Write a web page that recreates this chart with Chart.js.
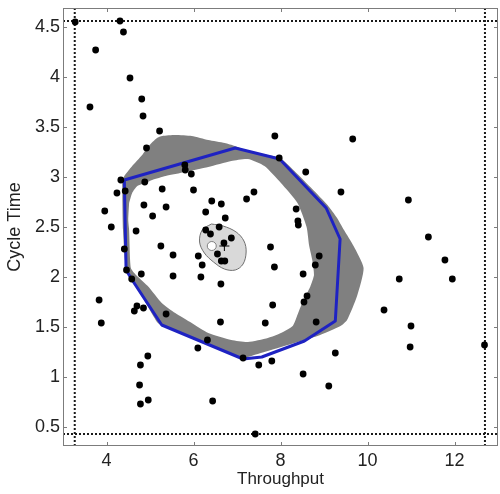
<!DOCTYPE html>
<html><head><meta charset="utf-8">
<script src="https://cdn.jsdelivr.net/npm/chart.js@4.4.1/dist/chart.umd.min.js"></script>
<style>
html,body{margin:0;padding:0;overflow:hidden;background:#fff;width:500px;height:494px}
#wrap{position:absolute;left:0;top:0;width:504px;height:494px}
</style>
</head><body><div id="wrap"><canvas id="c" width="504" height="494" style="width:504px;height:494px"></canvas></div>
<script>
const xTicks = [4, 6, 8, 10, 12];
const yTicks = [0.5, 1, 1.5, 2, 2.5, 3, 3.5, 4, 4.5];
const xRange = [3, 13];
const yRange = [0.31, 4.69];

const obsX = [3.28,4.31,4.39,3.75,4.54,3.62,4.81,4.84,5.22,4.92,5.80,5.81,5.95,4.33,4.88,4.43,4.24,5.28,6.00,3.96,
  4.86,5.37,4.11,5.06,4.68,5.25,6.42,6.64,6.28,6.73,7.22,6.28,6.39,6.59,6.87,6.70,6.55,6.64,6.72,6.11,
  6.20,6.17,7.87,9.66,7.97,8.58,7.39,9.39,10.94,8.36,8.40,8.41,11.40,7.77,8.89,8.80,7.86,8.52,11.78,11.95,
  10.73,8.61,8.54,7.82,10.38,7.65,8.82,11.00,10.98,9.26,7.80,7.50,8.52,9.11,12.69,7.42,5.53,5.53,6.63,4.80,
  4.46,3.83,3.88,4.70,4.64,4.85,5.37,6.62,6.10,6.32,4.95,4.78,4.76,4.78,4.96,6.44,7.14,4.41,4.58];
const obsY = [4.55,4.56,4.45,4.27,3.99,3.70,3.78,3.61,3.46,3.29,3.12,3.07,3.03,2.97,2.95,2.86,2.84,2.88,2.87,2.66,
  2.72,2.70,2.50,2.61,2.46,2.31,2.76,2.73,2.65,2.59,2.78,2.47,2.43,2.50,2.39,2.34,2.23,2.16,2.16,2.21,
  2.12,2.00,3.41,3.38,3.19,3.05,2.85,2.85,2.77,2.68,2.56,2.52,2.40,2.30,2.21,2.12,2.10,2.03,2.17,1.98,
  1.98,1.81,1.75,1.72,1.67,1.54,1.55,1.51,1.30,1.24,1.16,1.12,1.03,0.91,1.32,0.43,2.22,2.01,1.93,2.03,
  2.07,1.77,1.54,1.71,1.66,1.69,1.63,1.55,1.29,1.37,1.21,1.12,0.92,0.73,0.77,0.76,1.19,2.28,1.98];

const boundX = [3.27, 12.70];
const boundY = [0.43, 4.56];

const blueX = [4.41,6.96,7.98,9.05,9.37,9.26,8.55,7.57,7.14,5.27,4.59,4.45,4.41];
const blueY = [2.97,3.29,3.18,2.69,2.38,1.56,1.36,1.20,1.18,1.52,1.97,2.07,2.97];

const outerX = [4.36,4.41,4.59,4.82,4.97,5.16,5.28,5.58,5.96,6.34,6.72,6.95,7.25,7.98,8.32,8.73,9.08,9.30,9.46,9.68,
  9.91,9.76,9.53,9.38,8.85,8.32,7.71,7.25,7.14,6.25,5.25,5.16,4.59,4.45,4.38,4.36];
const outerY = [2.95,3.01,3.11,3.22,3.31,3.39,3.41,3.42,3.41,3.37,3.34,3.31,3.26,3.19,3.06,2.88,2.72,2.59,2.47,2.31,
  2.09,1.81,1.57,1.51,1.41,1.34,1.26,1.20,1.18,1.35,1.52,1.55,1.98,2.09,2.47,2.95];

const innerX = [4.52,4.59,4.71,4.90,5.05,5.36,5.81,6.34,6.87,7.25,7.63,8.01,8.39,8.60,8.66,8.73,8.77,8.69,8.58,8.47,
  8.38,8.28,8.01,7.71,7.25,6.87,6.34,5.96,5.58,5.27,4.97,4.68,4.56,4.52,4.50,4.52];
const innerY = [2.74,2.84,2.91,2.94,2.97,3.01,3.05,3.10,3.16,3.18,3.11,2.94,2.74,2.50,2.31,2.17,2.02,1.91,1.81,1.71,
  1.61,1.51,1.44,1.39,1.35,1.37,1.44,1.54,1.64,1.74,1.90,2.02,2.09,2.47,2.57,2.74];

const ellX = [6.41,6.68,6.98,7.16,7.21,7.14,6.96,6.71,6.46,6.25,6.14,6.20,6.41];
const ellY = [2.53,2.51,2.45,2.36,2.25,2.13,2.07,2.08,2.15,2.24,2.35,2.47,2.53];

const meanPt = [6.42, 2.31];
const crossPt = [6.71, 2.31];

const pts = (xs, ys) => xs.map((x, i) => ({x: x, y: ys[i]}));
const FONT = "'Liberation Sans', Arial, sans-serif";

const frame = {
  id: 'frame',
  afterDatasetsDraw(chart) {
    const {ctx, chartArea: a, scales} = chart;
    const x = scales.x, y = scales.y;
    ctx.save();
    ctx.strokeStyle = '#7c7c7c';
    ctx.lineWidth = 1;
    ctx.beginPath();
    xTicks.forEach(v => {
      const px = Math.round(x.getPixelForValue(v)) + 0.5;
      ctx.moveTo(px, a.bottom); ctx.lineTo(px, a.bottom - 4);
      ctx.moveTo(px, a.top); ctx.lineTo(px, a.top + 4);
    });
    yTicks.forEach(v => {
      const py = Math.round(y.getPixelForValue(v)) + 0.5;
      ctx.moveTo(a.left, py); ctx.lineTo(a.left + 4, py);
      ctx.moveTo(a.right, py); ctx.lineTo(a.right - 4, py);
    });
    ctx.stroke();
    ctx.strokeRect(a.left + 0.5, a.top + 0.5, a.right - a.left - 1, a.bottom - a.top - 1);
    ctx.restore();
  }
};

const zeroPad = s => { s.paddingLeft = 0; s.paddingRight = 0; s.paddingTop = 0; s.paddingBottom = 0; };

const line = (xs, ys, extra) => Object.assign({
  data: pts(xs, ys), showLine: true, pointRadius: 0, pointHoverRadius: 0, tension: 0, fill: false
}, extra);

new Chart(document.getElementById('c'), {
  type: 'scatter',
  data: {
    datasets: [
      {label: 'cross', data: [{x: crossPt[0], y: crossPt[1]}], pointStyle: 'cross', pointRadius: 5,
        borderColor: '#000', borderWidth: 1},
      {label: 'mean', data: [{x: meanPt[0], y: meanPt[1]}], pointRadius: 4.5,
        backgroundColor: '#fff', borderColor: '#808080', borderWidth: 1},
      {label: 'obs', data: pts(obsX, obsY), pointRadius: 3.4, backgroundColor: '#000', borderWidth: 0},
      line([boundX[0], boundX[0]], yRange, {borderColor: '#1a1a1a', borderWidth: 2, borderDash: [2, 2]}),
      line([boundX[1], boundX[1]], yRange, {borderColor: '#1a1a1a', borderWidth: 2, borderDash: [2, 2]}),
      line(xRange, [boundY[0], boundY[0]], {borderColor: '#1a1a1a', borderWidth: 2, borderDash: [2, 2]}),
      line(xRange, [boundY[1], boundY[1]], {borderColor: '#1a1a1a', borderWidth: 2, borderDash: [2, 2]}),
      line(blueX, blueY, {borderColor: '#1e22c2', borderWidth: 3, borderJoinStyle: 'round'}),
      line(ellX, ellY, {borderColor: '#707070', borderWidth: 1, backgroundColor: '#d9d9d9', fill: 'shape', tension: 0.35}),
      line(innerX, innerY, {borderColor: 'rgba(0,0,0,0)', borderWidth: 1, backgroundColor: '#ffffff', fill: 'shape', tension: 0.2}),
      line(outerX, outerY, {borderColor: 'rgba(0,0,0,0)', borderWidth: 1, backgroundColor: '#808080', fill: 'shape', tension: 0.2})
    ]
  },
  options: {
    responsive: false,
    devicePixelRatio: 1,
    animation: false,
    events: [],
    layout: {padding: {top: 8, right: 2, left: 0, bottom: 0}},
    plugins: {legend: {display: false}, tooltip: {enabled: false}},
    scales: {
      x: {
        type: 'linear', min: xRange[0], max: xRange[1],
        afterBuildTicks: s => { s.ticks = xTicks.map(v => ({value: v})); },
        afterFit: s => { s.height = 48; zeroPad(s); },
        grid: {display: false, drawTicks: false}, border: {display: false},
        ticks: {font: {family: FONT, size: 18}, color: '#222', padding: 4, maxRotation: 0, autoSkip: false,
          callback: v => String(v)},
        title: {display: true, text: 'Throughput', font: {family: FONT, size: 17}, color: '#222',
          padding: {top: 0, bottom: 4}}
      },
      y: {
        type: 'linear', min: yRange[0], max: yRange[1],
        afterBuildTicks: s => { s.ticks = yTicks.map(v => ({value: v})); },
        afterFit: s => { s.width = 63; zeroPad(s); },
        grid: {display: false, drawTicks: false}, border: {display: false},
        ticks: {font: {family: FONT, size: 18}, color: '#222', padding: 3, autoSkip: false,
          callback: v => String(v)},
        title: {display: true, text: 'Cycle Time', font: {family: FONT, size: 18}, color: '#222',
          padding: {top: 4, bottom: 0}}
      }
    }
  },
  plugins: [frame]
});
</script></body></html>
